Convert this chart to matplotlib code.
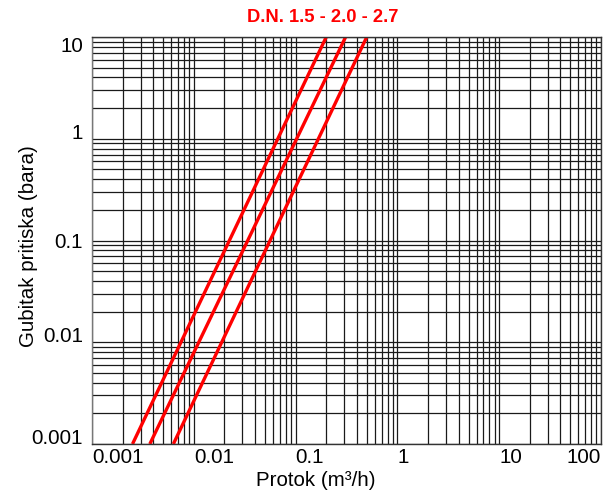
import matplotlib
matplotlib.use('Agg')
import matplotlib.pyplot as plt
import matplotlib.ticker as mtick

plt.rcParams['font.family'] = ['Liberation Sans', 'DejaVu Sans']

# flow at the bottom (0.001 bar) and top (10 bar) of each curve
pressure = [0.001, 10]
flow_dn15 = [0.0025, 0.2]
flow_dn20 = [0.0037, 0.31]
flow_dn27 = [0.0063, 0.5]

x_ticks = [0.001, 0.01, 0.1, 1, 10, 100]
x_labels = ['0.001', '0.01', '0.1', '1', '10', '100']
y_ticks = [0.001, 0.01, 0.1, 1, 10]
y_labels = ['0.001', '0.01', '0.1', '1', '10']

fs = 14.8

fig = plt.figure(figsize=(6.15, 4.91), dpi=100)
ax = fig.add_axes([92 / 615, 1 - 444 / 491, 509 / 615, 407 / 491])
ax.set_xscale('log')
ax.set_yscale('log')
ax.set_xlim(0.001, 100)
ax.set_ylim(0.001, 10)

ax.xaxis.set_minor_locator(mtick.LogLocator(base=10, subs=range(2, 10), numticks=50))
ax.yaxis.set_minor_locator(mtick.LogLocator(base=10, subs=range(2, 10), numticks=50))
ax.xaxis.set_minor_formatter(mtick.NullFormatter())
ax.yaxis.set_minor_formatter(mtick.NullFormatter())
ax.grid(True, which='both', color='#1a1a1a', linewidth=0.9)
ax.set_axisbelow(True)

for flows in (flow_dn15, flow_dn20, flow_dn27):
    ax.plot(flows, pressure, color='#ff0000', linewidth=2.4, solid_capstyle='butt')

ax.set_xticks(x_ticks)
ax.set_xticklabels(x_labels, fontsize=fs)
ax.set_yticks(y_ticks)
ax.set_yticklabels(y_labels, fontsize=fs)
ax.tick_params(which='both', length=0)
ax.tick_params(axis='x', pad=3)
ax.tick_params(axis='y', pad=6.5)

xl = ax.get_xticklabels()
for t in xl[:-1]:
    t.set_horizontalalignment('left')
xl[-1].set_horizontalalignment('right')

yl = ax.get_yticklabels()
valign = ['baseline', 'baseline', 'center_baseline', 'baseline', 'top']
for t, va in zip(yl, valign):
    t.set_verticalalignment(va)

for s in ax.spines.values():
    s.set_color('#333333')
    s.set_linewidth(1.0)
ax.spines['left'].set_color('#777777')

ax.set_xlabel('Protok (m³/h)', fontsize=fs)
ax.xaxis.set_label_coords(0.44, -0.067)
ax.set_ylabel('Gubitak pritiska (bara)', fontsize=fs)
ax.yaxis.set_label_coords(-0.106, 0.485)

fig.text(323 / 615, 1 - 18 / 491, 'D.N. 1.5 - 2.0 - 2.7', color='#ff0000',
         fontsize=13.2, fontweight='bold', ha='center', va='center')

fig.savefig('out.png', dpi=100)
